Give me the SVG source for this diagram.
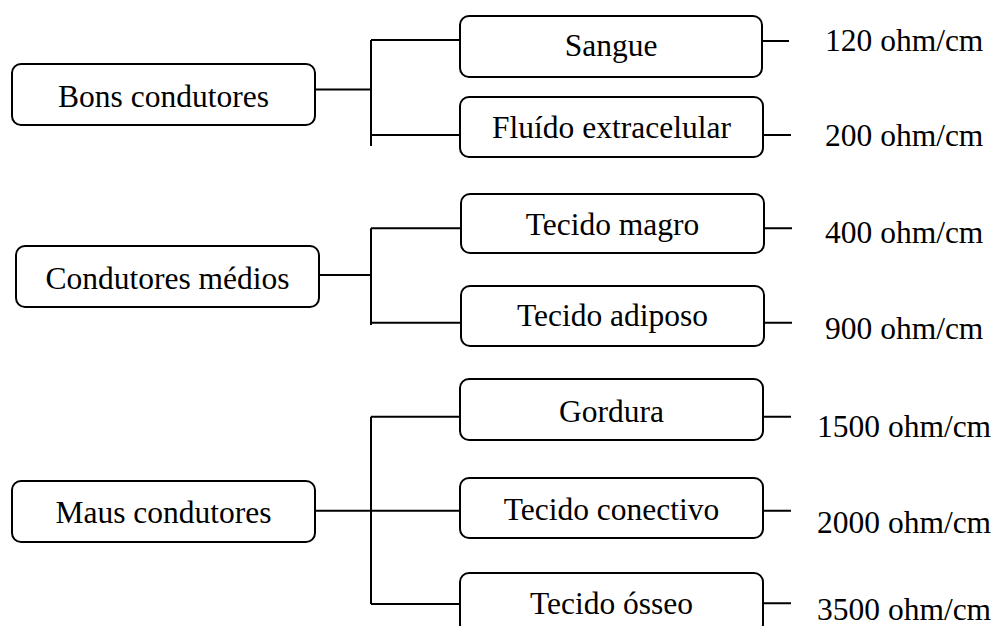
<svg xmlns="http://www.w3.org/2000/svg" width="997" height="626" viewBox="0 0 997 626">
<style>
.box{fill:#fff;stroke:#000;stroke-width:2}
.lbl{font-family:'Liberation Serif','DejaVu Serif',serif;font-size:31.5px;fill:#000}
.c{text-anchor:middle}
.ln{fill:none;stroke:#000;stroke-width:2}
</style>
<rect width="997" height="626" fill="#fff"/>
<g id="connectors" class="ln">
<path d="M315 89.5H371M371 40V146M371 40H460M371 135H460"/>
<path d="M762 41H789M763 135H791"/>
<path d="M319 275H371M371 228.3V325M371 228.3H461M371 322.7H461"/>
<path d="M764 228.3H792M764 322.7H792"/>
<path d="M315 510.7H460M371 416.7V604M371 416.7H460M371 604H460"/>
<path d="M763 416.7H791M763 510.7H791M763 603.3H791"/>
</g>
<g id="bons"><rect class="box" x="12" y="64" width="303" height="61" rx="9"/><text class="lbl c" font-family="Liberation Serif, serif" x="163.5" y="107">Bons condutores</text></g>
<g id="sangue"><rect class="box" x="460" y="16" width="302" height="61" rx="9"/><text class="lbl c" font-family="Liberation Serif, serif" x="611" y="56">Sangue</text></g>
<g id="fluido"><rect class="box" x="460" y="97" width="303" height="60" rx="9"/><text class="lbl c" font-family="Liberation Serif, serif" x="611.5" y="137.5">Fluído extracelular</text></g>
<g id="medios"><rect class="box" x="16" y="246" width="303" height="61" rx="9"/><text class="lbl c" font-family="Liberation Serif, serif" x="167.5" y="289">Condutores médios</text></g>
<g id="magro"><rect class="box" x="461" y="194" width="303" height="59" rx="9"/><text class="lbl c" font-family="Liberation Serif, serif" x="612.5" y="235">Tecido magro</text></g>
<g id="adiposo"><rect class="box" x="461" y="286" width="303" height="60" rx="9"/><text class="lbl c" font-family="Liberation Serif, serif" x="612.5" y="326">Tecido adiposo</text></g>
<g id="maus"><rect class="box" x="12" y="481" width="303" height="61" rx="9"/><text class="lbl c" font-family="Liberation Serif, serif" x="163.5" y="523">Maus condutores</text></g>
<g id="gordura"><rect class="box" x="460" y="379" width="303" height="61" rx="9"/><text class="lbl c" font-family="Liberation Serif, serif" x="611.5" y="421.5">Gordura</text></g>
<g id="conectivo"><rect class="box" x="460" y="478" width="303" height="60" rx="9"/><text class="lbl c" font-family="Liberation Serif, serif" x="611.5" y="520">Tecido conectivo</text></g>
<g id="osseo"><rect class="box" x="460" y="573" width="303" height="60" rx="9"/><text class="lbl c" font-family="Liberation Serif, serif" x="611.5" y="614">Tecido ósseo</text></g>
<g id="values" font-family="Liberation Serif, serif">
<text class="lbl" x="825" y="51">120 ohm/cm</text>
<text class="lbl" x="825" y="146">200 ohm/cm</text>
<text class="lbl" x="825" y="243">400 ohm/cm</text>
<text class="lbl" x="825" y="339">900 ohm/cm</text>
<text class="lbl" x="817" y="437">1500 ohm/cm</text>
<text class="lbl" x="817" y="533">2000 ohm/cm</text>
<text class="lbl" x="817" y="620">3500 ohm/cm</text>
</g>
</svg>
